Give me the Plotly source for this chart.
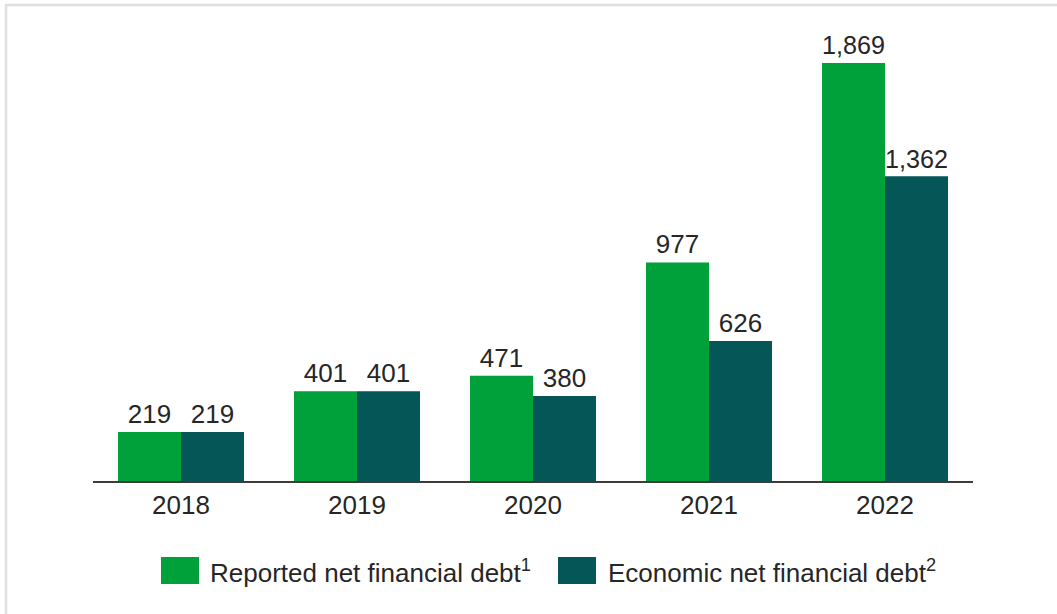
import plotly.graph_objects as go

# Net financial debt by year
years = ["2018", "2019", "2020", "2021", "2022"]
reported = [219, 401, 471, 977, 1869]
economic = [219, 401, 380, 626, 1362]

series_names = ["Reported net financial debt<sup>1</sup>",
                "Economic net financial debt<sup>2</sup>"]
colors = ["#00A03A", "#055656"]

W, H = 1057, 614
M_L, M_R, M_T, M_B = 93, 84, 20, 133
PW, PH = W - M_L - M_R, H - M_T - M_B
FONT = "Liberation Sans, Arial, sans-serif"
TXT = "#262626"
FS = 26


def px_x(x):
    """Pixel x -> paper x."""
    return (x - M_L) / PW


def px_y(y):
    """Pixel y (from top) -> paper y."""
    return (H - M_B - y) / PH


fig = go.Figure()
for name, vals, col in zip(series_names, [reported, economic], colors):
    fig.add_trace(go.Bar(
        x=years, y=vals, name=name,
        marker=dict(color=col, line=dict(width=0)),
        text=[f"{v:,}" for v in vals],
        textposition="outside",
        textfont=dict(family=FONT, size=FS, color=TXT),
        cliponaxis=False,
        showlegend=False,
    ))

shapes = [
    # light frame along the top and left edges
    dict(type="line", xref="paper", yref="paper",
         x0=px_x(5), x1=px_x(W + 2), y0=px_y(5), y1=px_y(5),
         line=dict(color="#E0E0E0", width=2.5)),
    dict(type="line", xref="paper", yref="paper",
         x0=px_x(6), x1=px_x(6), y0=px_y(4), y1=px_y(H + 2),
         line=dict(color="#E0E0E0", width=2.5)),
]
annotations = []

# legend: swatch + label
legend_items = [(161, 199, 208), (558, 596, 606)]
for (sx0, sx1, tx), name, col in zip(legend_items, series_names, colors):
    shapes.append(dict(type="rect", xref="paper", yref="paper",
                       x0=px_x(sx0), x1=px_x(sx1),
                       y0=px_y(584), y1=px_y(557),
                       fillcolor=col, line=dict(width=0)))
    annotations.append(dict(xref="paper", yref="paper",
                            x=px_x(tx), y=px_y(571),
                            xanchor="left", yanchor="middle",
                            text=name, showarrow=False,
                            font=dict(family=FONT, size=FS, color=TXT)))

fig.update_layout(
    width=W, height=H,
    margin=dict(l=M_L, r=M_R, t=M_T, b=M_B, autoexpand=False),
    paper_bgcolor="white", plot_bgcolor="white",
    barmode="group", bargap=0.284, bargroupgap=0,
    shapes=shapes, annotations=annotations,
    xaxis=dict(showline=True, linecolor="#3C3C3C", linewidth=2,
               showgrid=False, ticks="", zeroline=False,
               tickfont=dict(family=FONT, size=FS, color=TXT)),
    yaxis=dict(range=[0, 2061], visible=False, showgrid=False,
               zeroline=False),
    showlegend=False,
)

fig.write_html("out.html")
